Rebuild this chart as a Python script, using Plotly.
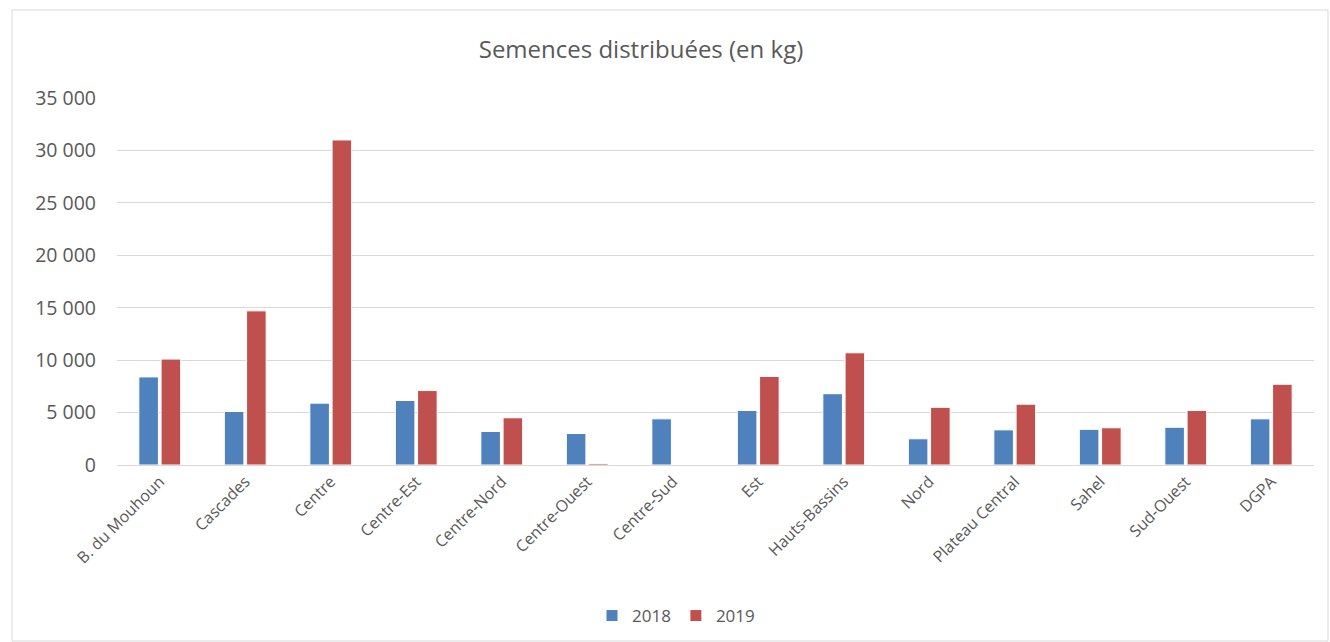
import plotly.graph_objects as go

categories = ["B. du Mouhoun", "Cascades", "Centre", "Centre-Est", "Centre-Nord",
              "Centre-Ouest", "Centre-Sud", "Est", "Hauts-Bassins", "Nord",
              "Plateau Central", "Sahel", "Sud-Ouest", "DGPA"]
values_2018 = [8400, 5100, 5900, 6150, 3200, 3000, 4400, 5200, 6800, 2500, 3350, 3400, 3600, 4400]
values_2019 = [10100, 14700, 31000, 7100, 4500, 150, 0, 8450, 10700, 5500, 5800, 3550, 5200, 7700]
y_ticks = [0, 5000, 10000, 15000, 20000, 25000, 30000, 35000]

W, H = 1330, 642
L, R, T, B = 117, 16, 98, 177
pw, ph = W - L - R, H - T - B

def px_x(p):
    return (p - L) / pw

def px_y(p):
    return (H - B - p) / ph

fig = go.Figure()
fig.add_bar(name="2018", x=categories, y=values_2018,
            marker=dict(color="#4F81BD", line=dict(color="white", width=1)))
fig.add_bar(name="2019", x=categories, y=values_2019,
            marker=dict(color="#C0504D", line=dict(color="white", width=1)))

# outer chart frame
fig.add_shape(type="rect", xref="paper", yref="paper",
              x0=px_x(12), x1=px_x(1328), y0=px_y(641), y1=px_y(10),
              line=dict(color="#D9D9D9", width=1), layer="below")

fig.update_layout(
    width=W, height=H,
    margin=dict(l=L, r=R, t=T, b=B, autoexpand=False),
    paper_bgcolor="white", plot_bgcolor="white",
    separators=", ",
    font=dict(family="Open Sans", color="#595959"),
    title=dict(text="Semences distribuées (en kg)", x=641 / W, xref="container",
               xanchor="center", y=1 - 50 / H, yanchor="middle",
               font=dict(size=24, color="#595959")),
    barmode="group", bargap=0.48, bargroupgap=0.12,
    showlegend=True,
    legend=dict(orientation="h", x=px_x(676), xanchor="center",
                y=px_y(616), yanchor="middle", font=dict(size=17, color="#595959"),
                itemwidth=30),
    xaxis=dict(tickangle=-45, tickfont=dict(size=16, color="#595959"),
               showgrid=False, showline=True, linecolor="#D9D9D9", linewidth=1,
               ticks="", automargin=False),
    yaxis=dict(range=[0, 35000], tickvals=y_ticks, tickformat=",d",
               tickfont=dict(size=19.5, color="#595959"),
               showgrid=True, gridcolor="#D9D9D9", gridwidth=1,
               zeroline=False, showline=False, ticks="", ticklabelstandoff=20,
               automargin=False),
)

fig.write_html("out.html")
